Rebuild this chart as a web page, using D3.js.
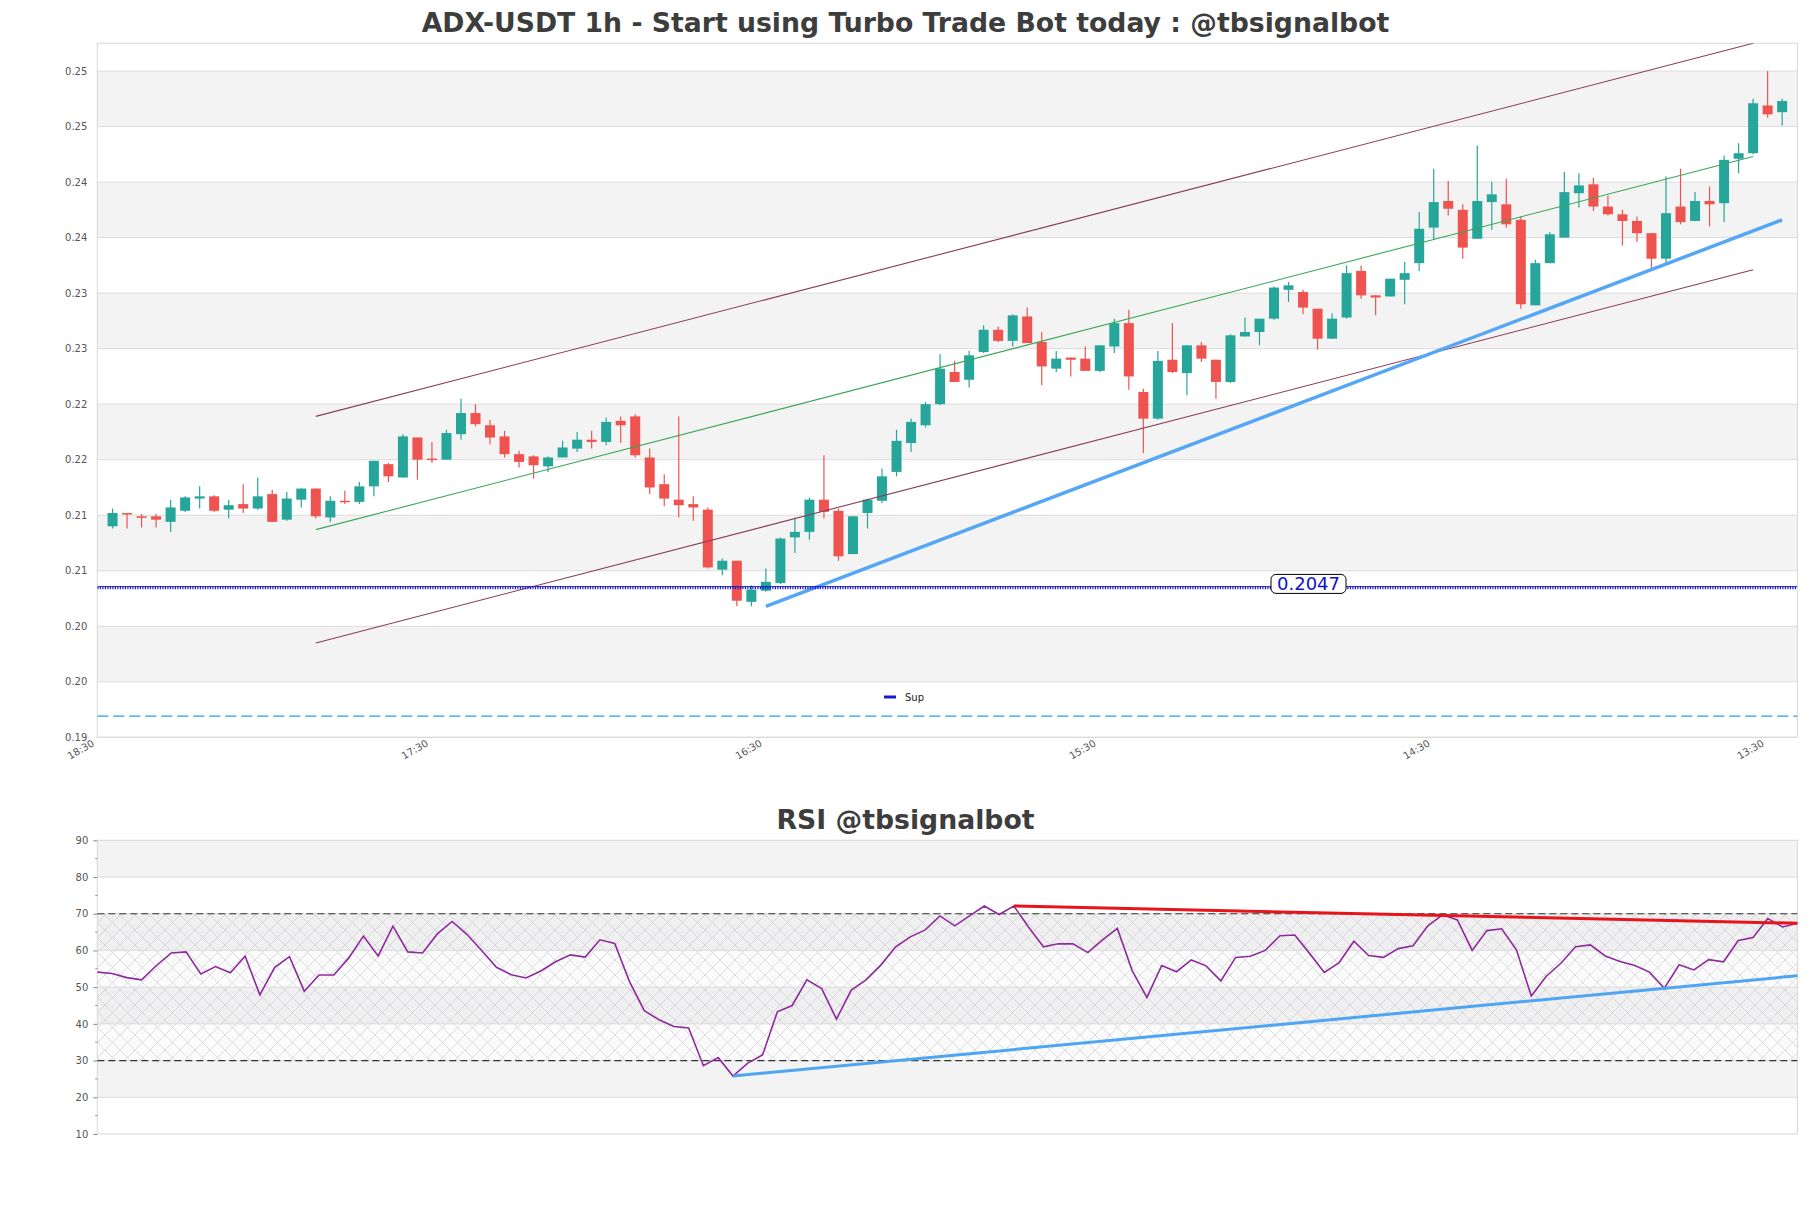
<!DOCTYPE html>
<html><head><meta charset="utf-8">
<script src="https://cdn.jsdelivr.net/npm/d3@7"></script>
<style>body{margin:0;background:#fff}svg{display:block}text{font-family:"DejaVu Sans",sans-serif}</style>
</head><body><svg id="c" width="1811" height="1208"></svg>
<script>
// ---------- DATA ----------
const timeLabels = ["18:30","17:30","16:30","15:30","14:30","13:30"];
const timeTickIdx = [0,23,46,69,92,115];
const priceTicks = [0.1912,0.1962,0.2012,0.2062,0.2112,0.2162,0.2212,0.2262,0.2312,0.2362,0.2412,0.2462,0.2512];
const rsiTicks = [10,20,30,40,50,60,70,80,90];
const rsiMinor = [15,25,35,45,55,65,75,85];

const open = [0.2102,0.2114,0.2111,0.2111,0.2106,0.2116,0.2127,0.2129,0.2117,0.2122,
0.2118,0.2131,0.2108,0.2126,0.2136,0.2110,0.2125,0.2124,0.2138,0.2158,
0.2146,0.2182,0.2163,0.2162,0.2185,0.2204,0.2193,0.2183,0.2167,0.2165,
0.2156,0.2164,0.2172,0.2180,0.2178,0.2197,0.2201,0.2164,0.2140,0.2126,
0.2122,0.2117,0.2063,0.2071,0.2034,0.2044,0.2051,0.2092,0.2097,0.2126,
0.2116,0.2077,0.2114,0.2125,0.2151,0.2177,0.2193,0.2212,0.2241,0.2234,
0.2259,0.2279,0.2269,0.2291,0.2268,0.2244,0.2254,0.2253,0.2242,0.2264,
0.2285,0.2223,0.2199,0.2252,0.2240,0.2265,0.2252,0.2232,0.2273,0.2277,
0.2289,0.2315,0.2313,0.2298,0.2271,0.2290,0.2332,0.2310,0.2309,0.2324,
0.2339,0.2371,0.2395,0.2387,0.2361,0.2394,0.2392,0.2378,0.2301,0.2339,
0.2362,0.2402,0.2410,0.2390,0.2383,0.2377,0.2366,0.2343,0.2390,0.2377,
0.2395,0.2393,0.2433,0.2438,0.2481,0.2475];
const high = [0.2118,0.2114,0.2113,0.2113,0.2126,0.2129,0.2138,0.2130,0.2126,0.2140,
0.2146,0.2135,0.2133,0.2136,0.2136,0.2129,0.2134,0.2142,0.2161,0.2159,
0.2185,0.2182,0.2178,0.2189,0.2217,0.2212,0.2198,0.2188,0.2170,0.2166,
0.2165,0.2179,0.2187,0.2188,0.2200,0.2201,0.2203,0.2172,0.2149,0.2201,
0.2129,0.2119,0.2073,0.2071,0.2049,0.2064,0.2092,0.2110,0.2128,0.2166,
0.2118,0.2111,0.2127,0.2154,0.2189,0.2199,0.2214,0.2257,0.2251,0.2260,
0.2283,0.2282,0.2293,0.2299,0.2277,0.2260,0.2254,0.2264,0.2265,0.2289,
0.2297,0.2226,0.2260,0.2285,0.2265,0.2268,0.2252,0.2275,0.2290,0.2289,
0.2318,0.2322,0.2315,0.2298,0.2294,0.2337,0.2337,0.2310,0.2325,0.2340,
0.2385,0.2424,0.2413,0.2392,0.2445,0.2412,0.2415,0.2381,0.2342,0.2367,
0.2421,0.2420,0.2416,0.2400,0.2387,0.2381,0.2366,0.2417,0.2424,0.2403,
0.2408,0.2436,0.2447,0.2487,0.2512,0.2487];
const low = [0.2100,0.2100,0.2101,0.2101,0.2097,0.2115,0.2118,0.2115,0.2109,0.2114,
0.2117,0.2106,0.2107,0.2119,0.2109,0.2106,0.2122,0.2122,0.2129,0.2142,
0.2146,0.2144,0.2159,0.2162,0.2180,0.2192,0.2176,0.2164,0.2155,0.2145,
0.2151,0.2164,0.2169,0.2172,0.2175,0.2177,0.2164,0.2131,0.2120,0.2110,
0.2107,0.2064,0.2058,0.2030,0.2030,0.2043,0.2050,0.2078,0.2090,0.2109,
0.2071,0.2077,0.2100,0.2123,0.2147,0.2169,0.2191,0.2211,0.2232,0.2227,
0.2258,0.2268,0.2264,0.2267,0.2229,0.2241,0.2237,0.2242,0.2241,0.2258,
0.2225,0.2168,0.2198,0.2240,0.2220,0.2250,0.2217,0.2231,0.2273,0.2265,
0.2288,0.2304,0.2293,0.2261,0.2271,0.2289,0.2307,0.2292,0.2309,0.2302,
0.2332,0.2360,0.2382,0.2343,0.2361,0.2369,0.2371,0.2298,0.2301,0.2339,
0.2362,0.2389,0.2386,0.2382,0.2355,0.2358,0.2333,0.2339,0.2374,0.2377,
0.2372,0.2376,0.2420,0.2437,0.2470,0.2463];
const close = [0.2114,0.2113,0.2110,0.2108,0.2119,0.2128,0.2129,0.2116,0.2121,0.2118,
0.2129,0.2106,0.2127,0.2136,0.2111,0.2125,0.2124,0.2138,0.2161,0.2147,
0.2183,0.2162,0.2162,0.2186,0.2204,0.2194,0.2182,0.2167,0.2160,0.2157,
0.2164,0.2173,0.2180,0.2178,0.2196,0.2193,0.2166,0.2137,0.2127,0.2121,
0.2119,0.2065,0.2071,0.2035,0.2045,0.2052,0.2091,0.2097,0.2126,0.2115,
0.2075,0.2111,0.2126,0.2147,0.2179,0.2196,0.2212,0.2244,0.2232,0.2256,
0.2279,0.2269,0.2292,0.2267,0.2246,0.2253,0.2252,0.2242,0.2265,0.2285,
0.2237,0.2199,0.2251,0.2241,0.2265,0.2253,0.2232,0.2274,0.2277,0.2289,
0.2317,0.2319,0.2299,0.2271,0.2289,0.2330,0.2310,0.2308,0.2325,0.2330,
0.2370,0.2394,0.2388,0.2353,0.2395,0.2401,0.2374,0.2302,0.2339,0.2365,
0.2403,0.2409,0.2390,0.2383,0.2377,0.2366,0.2343,0.2384,0.2376,0.2395,
0.2392,0.2432,0.2438,0.2483,0.2473,0.2485];
const rsi = [54.1,53.7,52.6,52.0,55.9,59.3,59.6,53.6,55.6,53.9,
58.4,47.9,55.4,58.3,48.9,53.3,53.3,57.9,63.9,58.5,
66.6,59.6,59.3,64.5,67.9,64.4,60.0,55.4,53.4,52.5,
54.4,56.9,58.8,58.2,62.9,61.9,51.5,43.6,41.1,39.3,
38.9,28.6,30.8,25.8,29.3,31.5,43.3,45.0,52.0,49.6,
41.3,49.2,52.0,56.0,61.0,63.7,65.6,69.4,66.7,69.4,
72.1,69.8,72.1,66.3,61.0,61.8,61.8,59.4,62.9,66.0,
54.5,47.2,55.9,54.2,57.4,55.8,51.7,58.1,58.4,60.0,
64.0,64.2,59.2,54.0,56.7,62.5,58.6,58.1,60.5,61.3,
66.7,69.7,68.3,60.0,65.4,65.9,60.1,47.6,52.9,56.5,
61.0,61.5,58.5,57.0,55.9,54.1,49.7,56.1,54.7,57.5,
56.9,62.7,63.5,68.7,66.4,67.4];

const channelUpper = [[14,0.2201],[113,0.2537]];
const channelMid   = [[14,0.2099],[113,0.2435]];
const channelLower = [[14,0.1997],[113,0.2333]];
const supportTrend = [[45,0.2030],[115,0.2378]];
const supportLevel = 0.2047;
const lowerLevel = 0.1931;
const rsiResist = [[62,72.1],[115,67.4]];
const rsiSupport = [[43,25.8],[115,53.1]];
const rsiBounds = [30,70];

// ---------- DRAW ----------
const svg = d3.select("#c");
const L=97.3, R=1797.4;
const x = d3.scaleLinear().domain([-1.05,116.05]).range([L,R]);
const y = d3.scaleLinear().domain([0.1912,0.2537]).range([737.3,43.3]);
const xr = d3.scaleLinear().domain([0,115]).range([L,R]);
const yr = d3.scaleLinear().domain([10,90]).range([1134,840.3]);

const defs = svg.append("defs");
const pat = defs.append("pattern").attr("id","hatch").attr("width",15).attr("height",15).attr("patternUnits","userSpaceOnUse");
pat.append("path").attr("d","M0,0L15,15M15,0L0,15").attr("stroke","#cdcbd3").attr("stroke-width",0.7);
pat.append("circle").attr("cx",7.5).attr("cy",2).attr("r",0.5).attr("fill","#d6d0dc");
defs.append("clipPath").attr("id","clipMain").append("rect").attr("x",L).attr("y",43.3).attr("width",R-L).attr("height",694);

// titles
svg.append("text").attr("x",905.5).attr("y",32).attr("text-anchor","middle")
  .attr("font-size",26.7).attr("font-weight","bold").attr("fill","#3d3d3d")
  .text("ADX-USDT 1h - Start using Turbo Trade Bot today : @tbsignalbot");
svg.append("text").attr("x",905.5).attr("y",829).attr("text-anchor","middle")
  .attr("font-size",26.7).attr("font-weight","bold").attr("fill","#3d3d3d")
  .text("RSI @tbsignalbot");

// ---- main panel ----
const gm = svg.append("g");
d3.pairs(priceTicks).forEach((p,i)=>{ if(i%2===1) gm.append("rect").attr("x",L).attr("width",R-L).attr("y",y(p[1])).attr("height",y(p[0])-y(p[1])).attr("fill","#f3f3f3"); });
gm.selectAll(".gl").data(priceTicks).enter().append("line").attr("x1",L).attr("x2",R)
  .attr("y1",d=>y(d)).attr("y2",d=>y(d)).attr("stroke","#dcdcdc").attr("stroke-width",1);
gm.append("rect").attr("x",L).attr("y",43.3).attr("width",R-L).attr("height",694).attr("fill","none").attr("stroke","#d8d8d8");

const yAx = gm.append("g").attr("transform",`translate(${L},0)`)
  .call(d3.axisLeft(y).tickValues(priceTicks).tickFormat(d3.format(".2f")).tickSize(0).tickPadding(10));
yAx.select(".domain").remove();
yAx.selectAll("text").attr("font-size",10).attr("fill","#555").attr("font-family","DejaVu Sans");

const xAx = gm.append("g").attr("transform","translate(0,737.3)")
  .call(d3.axisBottom(x).tickValues(timeTickIdx).tickFormat((d,i)=>timeLabels[i]).tickSize(0));
xAx.select(".domain").remove();
xAx.selectAll("text").attr("y",0).attr("dy",0).attr("x",0).attr("text-anchor","end")
  .attr("transform","translate(-18,8) rotate(-30)").attr("font-size",10).attr("fill","#555").attr("font-family","DejaVu Sans");

const plot = gm.append("g").attr("clip-path","url(#clipMain)");
const idx = d3.range(open.length);
const up = i => close[i] >= open[i];
const col = i => up(i) ? "#26a69a" : "#ef5350";
plot.selectAll(".wick").data(idx).enter().append("line")
  .attr("x1",i=>x(i)).attr("x2",i=>x(i)).attr("y1",i=>y(high[i])).attr("y2",i=>y(low[i]))
  .attr("stroke",col).attr("stroke-width",1.2);
plot.selectAll(".body").data(idx).enter().append("rect")
  .attr("x",i=>x(i)-5).attr("width",10)
  .attr("y",i=>y(Math.max(open[i],close[i])))
  .attr("height",i=>Math.max(1.5,Math.abs(y(open[i])-y(close[i]))))
  .attr("fill",col);

const ln = d3.line().x(d=>x(d[0])).y(d=>y(d[1]));
plot.append("path").attr("d",ln(channelUpper)).attr("stroke","#8a3c5c").attr("stroke-width",1.1).attr("fill","none");
plot.append("path").attr("d",ln(channelLower)).attr("stroke","#8a3c5c").attr("stroke-width",1.1).attr("fill","none");
plot.append("path").attr("d",ln(channelMid)).attr("stroke","#3aa655").attr("stroke-width",1.1).attr("fill","none");
plot.append("path").attr("d",ln(supportTrend)).attr("stroke","#55a7f5").attr("stroke-width",3.5).attr("fill","none");

// support level
const ys = y(supportLevel);
plot.append("line").attr("x1",L).attr("x2",R).attr("y1",ys-0.8).attr("y2",ys-0.8).attr("stroke","#1a1ac8").attr("stroke-width",1);
plot.append("line").attr("x1",L).attr("x2",R).attr("y1",ys+0.8).attr("y2",ys+0.8).attr("stroke","#1a1ac8").attr("stroke-width",2.2).attr("stroke-dasharray","1.2,1.3");
plot.append("line").attr("x1",L).attr("x2",R).attr("y1",y(lowerLevel)).attr("y2",y(lowerLevel))
  .attr("stroke","#2a9fd8").attr("stroke-width",1.3).attr("stroke-dasharray","11,5");
gm.append("rect").attr("x",1271).attr("y",ys-13).attr("width",75).attr("height",19).attr("rx",5)
  .attr("fill","#fff").attr("stroke","#000").attr("stroke-width",1);
gm.append("text").attr("x",1308.5).attr("y",ys+3).attr("text-anchor","middle").attr("font-size",18)
  .attr("fill","#1010d0").text(supportLevel.toFixed(4));

// legend
gm.append("line").attr("x1",884).attr("x2",896).attr("y1",697).attr("y2",697).attr("stroke","#1a1ac8").attr("stroke-width",3);
gm.append("text").attr("x",905).attr("y",700.5).attr("font-size",10).attr("fill","#222").text("Sup");

// ---- RSI panel ----
const gr = svg.append("g");
d3.pairs(rsiTicks).forEach((p,i)=>{ if(i%2===1) gr.append("rect").attr("x",L).attr("width",R-L).attr("y",yr(p[1])).attr("height",yr(p[0])-yr(p[1])).attr("fill","#f3f3f3"); });
gr.append("rect").attr("x",L).attr("width",R-L).attr("y",yr(rsiBounds[1])).attr("height",yr(rsiBounds[0])-yr(rsiBounds[1]))
  .attr("fill","#9a70b8").attr("fill-opacity",0.025);
gr.append("rect").attr("x",L).attr("width",R-L).attr("y",yr(rsiBounds[1])).attr("height",yr(rsiBounds[0])-yr(rsiBounds[1]))
  .attr("fill","url(#hatch)");
gr.selectAll(".gl").data(rsiTicks.slice(1,-1)).enter().append("line").attr("x1",L).attr("x2",R)
  .attr("y1",d=>yr(d)).attr("y2",d=>yr(d)).attr("stroke","#dcdcdc");
gr.append("rect").attr("x",L).attr("y",840.3).attr("width",R-L).attr("height",1134-840.3).attr("fill","none").attr("stroke","#d8d8d8");
rsiBounds.forEach(v=>gr.append("line").attr("x1",L).attr("x2",R).attr("y1",yr(v)).attr("y2",yr(v))
  .attr("stroke","#333").attr("stroke-width",1.1).attr("stroke-dasharray","7,4"));

const ryAx = gr.append("g").attr("transform",`translate(${L},0)`)
  .call(d3.axisLeft(yr).tickValues(rsiTicks).tickSize(4).tickPadding(5));
ryAx.select(".domain").remove();
ryAx.selectAll("line").attr("stroke","#888");
ryAx.selectAll("text").attr("font-size",10).attr("fill","#555").attr("font-family","DejaVu Sans");
gr.selectAll(".mt").data(rsiMinor).enter().append("line").attr("x1",L-2).attr("x2",L)
  .attr("y1",d=>yr(d)).attr("y2",d=>yr(d)).attr("stroke","#888");

const rl = d3.line().x((d,i)=>xr(i)).y(d=>yr(d));
gr.append("path").attr("d",rl(rsi)).attr("stroke","#8e2a9c").attr("stroke-width",1.6).attr("fill","none");
const tl = d3.line().x(d=>xr(d[0])).y(d=>yr(d[1]));
gr.append("path").attr("d",tl(rsiResist)).attr("stroke","#e8141c").attr("stroke-width",3).attr("fill","none");
gr.append("path").attr("d",tl(rsiSupport)).attr("stroke","#4ea5f2").attr("stroke-width",3).attr("fill","none");
</script></body></html>
